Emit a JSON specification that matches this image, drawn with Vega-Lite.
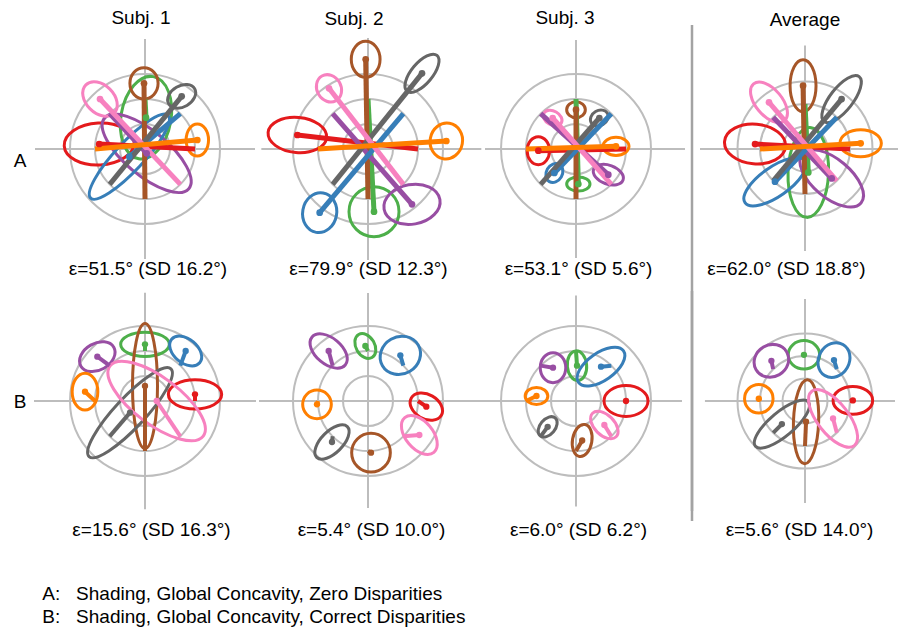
{
"$schema": "https://vega.github.io/schema/vega-lite/v6.json",
"padding": {"left": 13, "top": 8, "right": 0, "bottom": 0},
"title": {"text": ["A:\u00a0\u00a0\u00a0Shading, Global Concavity, Zero Disparities", "B:\u00a0\u00a0\u00a0Shading, Global Concavity, Correct Disparities"], "orient": "bottom", "anchor": "start", "offset": 45, "dx": 29, "lineHeight": 23, "baseline": "top"},
"config": {
  "view": {"stroke": null},
  "font": "Liberation Sans",
  "axis": {"labels": false, "ticks": false, "domain": false, "grid": false, "titleFont": "Liberation Sans", "titleFontSize": 19, "titleFontWeight": "normal", "titleColor": "#000"},
  "title": {"font": "Liberation Sans", "fontSize": 19, "fontWeight": "normal", "color": "#000"}
},
"datasets": {
  "rings": [{"rad": 15}, {"rad": 30}, {"rad": 45}],
  "targets": [
    {"c": "red", "tx": 30, "ty": 0}, {"c": "blue", "tx": 21.21, "ty": 21.21}, {"c": "green", "tx": 0, "ty": 30}, {"c": "purple", "tx": -21.21, "ty": 21.21},
    {"c": "orange", "tx": -30, "ty": 0}, {"c": "gray", "tx": -21.21, "ty": -21.21}, {"c": "brown", "tx": 0, "ty": -30}, {"c": "pink", "tx": 21.21, "ty": -21.21}
  ],
  "cross": [
    {"p": "S1A", "x1": -66, "y1": 0, "x2": 66, "y2": 0}, {"p": "S1A", "x1": 0, "y1": -66, "x2": 0, "y2": 66},
    {"p": "S2A", "x1": -64, "y1": 0, "x2": 68, "y2": 0}, {"p": "S2A", "x1": 0, "y1": -66.6, "x2": 0, "y2": 66.6},
    {"p": "S3A", "x1": -54.6, "y1": 0, "x2": 65.4, "y2": 0}, {"p": "S3A", "x1": 0, "y1": -65.4, "x2": 0, "y2": 65.4},
    {"p": "AvA", "x1": -70, "y1": 0, "x2": 62, "y2": 0}, {"p": "AvA", "x1": 0, "y1": -68, "x2": 0, "y2": 69},
    {"p": "S1B", "x1": -66.6, "y1": 0, "x2": 66.6, "y2": 0}, {"p": "S1B", "x1": 0, "y1": -65, "x2": 0, "y2": 65},
    {"p": "S2B", "x1": -65.4, "y1": 0, "x2": 66.6, "y2": 0}, {"p": "S2B", "x1": 0, "y1": -64.2, "x2": 0, "y2": 64.8},
    {"p": "S3B", "x1": -63, "y1": 0, "x2": 63.6, "y2": 0}, {"p": "S3B", "x1": 0, "y1": -63.3, "x2": 0, "y2": 63.3},
    {"p": "AvB", "x1": -66.7, "y1": 0, "x2": 60, "y2": 0}, {"p": "AvB", "x1": 0, "y1": -68, "x2": 0, "y2": 68}
  ],
  "items": [
    {"p": "S1A", "c": "red", "x": -27.5, "y": 3, "a": 21, "k": 0.6, "t": 3},
    {"p": "S1A", "c": "green", "x": 0.6, "y": 18.8, "a": 25, "k": 0.6, "t": 80},
    {"p": "S1A", "c": "brown", "x": -0.6, "y": 39.4, "a": 9.4, "k": 0.9, "t": 90},
    {"p": "S1A", "c": "purple", "x": 1, "y": -2.6, "a": 33, "k": 0.4, "t": 140},
    {"p": "S1A", "c": "blue", "x": -9.4, "y": -4.6, "a": 34, "k": 0.25, "t": 47},
    {"p": "S1A", "c": "gray", "x": 22, "y": 31.6, "a": 9, "k": 0.7, "t": 30},
    {"p": "S1A", "c": "pink", "x": -27, "y": 30, "a": 12, "k": 0.7, "t": 135},
    {"p": "S1A", "c": "orange", "x": 31.4, "y": 5.4, "a": 9.6, "k": 0.7, "t": 90},

    {"p": "S2A", "c": "red", "x": -42.4, "y": 8.4, "a": 17.6, "k": 0.6, "t": 175},
    {"p": "S2A", "c": "green", "x": 3.6, "y": -37.6, "a": 15, "k": 1, "t": 0},
    {"p": "S2A", "c": "brown", "x": -1.4, "y": 53.8, "a": 10.8, "k": 0.8, "t": 90},
    {"p": "S2A", "c": "purple", "x": 26.4, "y": -33.2, "a": 17, "k": 0.7, "t": 10},
    {"p": "S2A", "c": "blue", "x": -29, "y": -38.2, "a": 12, "k": 0.85, "t": 80},
    {"p": "S2A", "c": "gray", "x": 32.4, "y": 45.4, "a": 14, "k": 0.45, "t": 50},
    {"p": "S2A", "c": "pink", "x": -23.4, "y": 36.4, "a": 8.5, "k": 0.85, "t": 120},
    {"p": "S2A", "c": "orange", "x": 47, "y": 4.8, "a": 10.8, "k": 0.9, "t": 80},

    {"p": "S3A", "c": "red", "x": -22.6, "y": -1, "a": 8.4, "k": 0.8, "t": 90},
    {"p": "S3A", "c": "green", "x": 1.4, "y": -21, "a": 7, "k": 0.6, "t": 0},
    {"p": "S3A", "c": "brown", "x": 0, "y": 23.6, "a": 5.6, "k": 0.85, "t": 0},
    {"p": "S3A", "c": "purple", "x": 19.4, "y": -15.4, "a": 9.4, "k": 0.6, "t": 160},
    {"p": "S3A", "c": "blue", "x": -13, "y": -14.4, "a": 6, "k": 0.8, "t": 60},
    {"p": "S3A", "c": "gray", "x": 14, "y": 18.6, "a": 5.6, "k": 0.8, "t": 30},
    {"p": "S3A", "c": "pink", "x": -14, "y": 18.6, "a": 6, "k": 0.7, "t": 150},
    {"p": "S3A", "c": "orange", "x": 24, "y": 1.6, "a": 7.8, "k": 0.7, "t": 0},

    {"p": "AvA", "c": "red", "x": -33.3, "y": 3.3, "a": 20.4, "k": 0.65, "t": 175},
    {"p": "AvA", "c": "green", "x": 2.2, "y": -15.6, "a": 30, "k": 0.45, "t": 88},
    {"p": "AvA", "c": "brown", "x": -1.3, "y": 42.2, "a": 17.3, "k": 0.5, "t": 90},
    {"p": "AvA", "c": "purple", "x": 17.8, "y": -19.6, "a": 25.5, "k": 0.5, "t": 140},
    {"p": "AvA", "c": "blue", "x": -20, "y": -21.8, "a": 24.4, "k": 0.4, "t": 35},
    {"p": "AvA", "c": "gray", "x": 24.4, "y": 33.3, "a": 19, "k": 0.4, "t": 52},
    {"p": "AvA", "c": "pink", "x": -24, "y": 31.1, "a": 16, "k": 0.55, "t": 130},
    {"p": "AvA", "c": "orange", "x": 37.1, "y": 3.8, "a": 13.8, "k": 0.65, "t": 0},

    {"p": "S1B", "c": "red", "x": 30, "y": 4, "a": 16, "k": 0.55, "t": 0},
    {"p": "S1B", "c": "green", "x": 0, "y": 34, "a": 14.6, "k": 0.5, "t": 0},
    {"p": "S1B", "c": "brown", "x": 0, "y": 9, "a": 37.5, "k": 0.2, "t": 90},
    {"p": "S1B", "c": "purple", "x": -28.6, "y": 26.6, "a": 11.4, "k": 0.7, "t": 30},
    {"p": "S1B", "c": "blue", "x": 24.4, "y": 30, "a": 11, "k": 0.65, "t": 140},
    {"p": "S1B", "c": "gray", "x": -9, "y": -7, "a": 36, "k": 0.25, "t": 47},
    {"p": "S1B", "c": "pink", "x": 7, "y": 0, "a": 35, "k": 0.4, "t": 143},
    {"p": "S1B", "c": "orange", "x": -36, "y": 5.6, "a": 11, "k": 0.7, "t": 90},

    {"p": "S2B", "c": "red", "x": 35, "y": -3.4, "a": 10.4, "k": 0.7, "t": 150},
    {"p": "S2B", "c": "green", "x": -1.6, "y": 33, "a": 8, "k": 0.7, "t": 120},
    {"p": "S2B", "c": "brown", "x": 1.8, "y": -31, "a": 11.6, "k": 1, "t": 0},
    {"p": "S2B", "c": "purple", "x": -23.6, "y": 30, "a": 13, "k": 0.6, "t": 140},
    {"p": "S2B", "c": "blue", "x": 19.4, "y": 27.4, "a": 12.4, "k": 0.9, "t": 30},
    {"p": "S2B", "c": "gray", "x": -21.6, "y": -24.6, "a": 13, "k": 0.5, "t": 45},
    {"p": "S2B", "c": "pink", "x": 30.8, "y": -20.4, "a": 13.6, "k": 0.6, "t": 130},
    {"p": "S2B", "c": "orange", "x": -30.6, "y": -2, "a": 8.6, "k": 1, "t": 0},

    {"p": "S3B", "c": "red", "x": 30, "y": 0, "a": 13.2, "k": 0.7, "t": 0},
    {"p": "S3B", "c": "green", "x": 0.6, "y": 21.2, "a": 8.9, "k": 0.65, "t": 95},
    {"p": "S3B", "c": "brown", "x": 3.7, "y": -23.7, "a": 9.7, "k": 0.6, "t": 80},
    {"p": "S3B", "c": "purple", "x": -13.8, "y": 20, "a": 9, "k": 0.85, "t": 90},
    {"p": "S3B", "c": "blue", "x": 15, "y": 20.6, "a": 16.5, "k": 0.5, "t": 35},
    {"p": "S3B", "c": "gray", "x": -17, "y": -15.5, "a": 7, "k": 0.65, "t": 50},
    {"p": "S3B", "c": "pink", "x": 17, "y": -14.4, "a": 10, "k": 0.6, "t": 135},
    {"p": "S3B", "c": "orange", "x": -23.7, "y": 3, "a": 6.8, "k": 0.75, "t": 0},

    {"p": "AvB", "c": "red", "x": 31.9, "y": 0.4, "a": 13.2, "k": 0.7, "t": 0},
    {"p": "AvB", "c": "green", "x": -0.7, "y": 30.8, "a": 10.5, "k": 0.9, "t": 0},
    {"p": "AvB", "c": "brown", "x": 0.7, "y": -13.8, "a": 28, "k": 0.3, "t": 88},
    {"p": "AvB", "c": "purple", "x": -22.4, "y": 26.8, "a": 11.8, "k": 0.9, "t": 30},
    {"p": "AvB", "c": "blue", "x": 19.3, "y": 27.3, "a": 12, "k": 0.85, "t": 60},
    {"p": "AvB", "c": "gray", "x": -15.4, "y": -15.4, "a": 23, "k": 0.35, "t": 40},
    {"p": "AvB", "c": "pink", "x": 18.7, "y": -11.6, "a": 23, "k": 0.45, "t": 128},
    {"p": "AvB", "c": "orange", "x": -30.8, "y": 1.5, "a": 9.5, "k": 1, "t": 0}
  ]
},
"columns": 5,
"spacing": {"row": 32, "column": 0},
"bounds": "flush",
"resolve": {"scale": {"size": "independent", "x": "independent", "y": "independent"}},
"concat": [
{"width": 220, "height": 220,
 "title": {"text": "Subj. 1", "anchor": "middle", "frame": "group", "dx": -4, "offset": -4.5, "baseline": "alphabetic"},
 "layer": [
  {"data": {"name": "cross"}, "transform": [{"filter": "datum.p == 'S1A'"}], "mark": {"type": "rule", "color": "#bdbdbd", "strokeWidth": 2},
   "encoding": {"x": {"field": "x1", "type": "quantitative", "scale": {"domain": [-66, 66]}, "axis": {"title": "ε=51.5° (SD 16.2°)", "titleX": 112.5, "titleY": 15.5, "titleBaseline": "alphabetic", "titleAlign": "center"}},
    "y": {"field": "y1", "type": "quantitative", "scale": {"domain": [-66, 66]}, "axis": {"title": "A", "titleAngle": 0, "titleAlign": "right", "titleBaseline": "alphabetic", "titleX": -9, "titleY": 127.7}},
    "x2": {"field": "x2"}, "y2": {"field": "y2"}}},
  {"data": {"name": "rings"}, "mark": {"type": "point", "shape": "circle", "filled": false, "color": "#bdbdbd", "strokeWidth": 2, "opacity": 1},
   "encoding": {"x": {"datum": 0, "type": "quantitative", "scale": {"domain": [-66, 66]}, "axis": {"title": "ε=51.5° (SD 16.2°)", "titleX": 112.5, "titleY": 15.5, "titleBaseline": "alphabetic", "titleAlign": "center"}}, "y": {"datum": 0, "type": "quantitative", "scale": {"domain": [-66, 66]}, "axis": {"title": "A", "titleAngle": 0, "titleAlign": "right", "titleBaseline": "alphabetic", "titleX": -9, "titleY": 127.7}},
    "size": {"field": "rad", "type": "quantitative", "scale": {"type": "pow", "exponent": 2, "domain": [0, 45], "range": [0, 22500]}, "legend": null}}},
  {"data": {"name": "items"}, "transform": [{"filter": "datum.p == 'S1A'"}], "mark": {"type": "point", "filled": false, "strokeWidth": 3, "opacity": 1},
   "encoding": {"x": {"field": "x", "type": "quantitative", "scale": {"domain": [-66, 66]}, "axis": {"title": "ε=51.5° (SD 16.2°)", "titleX": 112.5, "titleY": 15.5, "titleBaseline": "alphabetic", "titleAlign": "center"}}, "y": {"field": "y", "type": "quantitative", "scale": {"domain": [-66, 66]}, "axis": {"title": "A", "titleAngle": 0, "titleAlign": "right", "titleBaseline": "alphabetic", "titleX": -9, "titleY": 127.7}},
    "size": {"field": "a", "type": "quantitative", "scale": {"type": "pow", "exponent": 2, "domain": [0, 45], "range": [0, 22500]}, "legend": null},
    "shape": {"field": "k", "type": "ordinal", "legend": null, "scale": {"domain": [0.2,0.25,0.3,0.35,0.4,0.45,0.5,0.55,0.6,0.65,0.7,0.75,0.8,0.85,0.9,1], "range": ["M1,0C1,0.1105,0.5523,0.2,0,0.2C-0.5523,0.2,-1,0.1105,-1,0C-1,-0.1105,-0.5523,-0.2,0,-0.2C0.5523,-0.2,1,-0.1105,1,0Z","M1,0C1,0.1381,0.5523,0.25,0,0.25C-0.5523,0.25,-1,0.1381,-1,0C-1,-0.1381,-0.5523,-0.25,0,-0.25C0.5523,-0.25,1,-0.1381,1,0Z","M1,0C1,0.1657,0.5523,0.3,0,0.3C-0.5523,0.3,-1,0.1657,-1,0C-1,-0.1657,-0.5523,-0.3,0,-0.3C0.5523,-0.3,1,-0.1657,1,0Z","M1,0C1,0.1933,0.5523,0.35,0,0.35C-0.5523,0.35,-1,0.1933,-1,0C-1,-0.1933,-0.5523,-0.35,0,-0.35C0.5523,-0.35,1,-0.1933,1,0Z","M1,0C1,0.2209,0.5523,0.4,0,0.4C-0.5523,0.4,-1,0.2209,-1,0C-1,-0.2209,-0.5523,-0.4,0,-0.4C0.5523,-0.4,1,-0.2209,1,0Z","M1,0C1,0.2485,0.5523,0.45,0,0.45C-0.5523,0.45,-1,0.2485,-1,0C-1,-0.2485,-0.5523,-0.45,0,-0.45C0.5523,-0.45,1,-0.2485,1,0Z","M1,0C1,0.2762,0.5523,0.5,0,0.5C-0.5523,0.5,-1,0.2762,-1,0C-1,-0.2762,-0.5523,-0.5,0,-0.5C0.5523,-0.5,1,-0.2762,1,0Z","M1,0C1,0.3038,0.5523,0.55,0,0.55C-0.5523,0.55,-1,0.3038,-1,0C-1,-0.3038,-0.5523,-0.55,0,-0.55C0.5523,-0.55,1,-0.3038,1,0Z","M1,0C1,0.3314,0.5523,0.6,0,0.6C-0.5523,0.6,-1,0.3314,-1,0C-1,-0.3314,-0.5523,-0.6,0,-0.6C0.5523,-0.6,1,-0.3314,1,0Z","M1,0C1,0.359,0.5523,0.65,0,0.65C-0.5523,0.65,-1,0.359,-1,0C-1,-0.359,-0.5523,-0.65,0,-0.65C0.5523,-0.65,1,-0.359,1,0Z","M1,0C1,0.3866,0.5523,0.7,0,0.7C-0.5523,0.7,-1,0.3866,-1,0C-1,-0.3866,-0.5523,-0.7,0,-0.7C0.5523,-0.7,1,-0.3866,1,0Z","M1,0C1,0.4142,0.5523,0.75,0,0.75C-0.5523,0.75,-1,0.4142,-1,0C-1,-0.4142,-0.5523,-0.75,0,-0.75C0.5523,-0.75,1,-0.4142,1,0Z","M1,0C1,0.4418,0.5523,0.8,0,0.8C-0.5523,0.8,-1,0.4418,-1,0C-1,-0.4418,-0.5523,-0.8,0,-0.8C0.5523,-0.8,1,-0.4418,1,0Z","M1,0C1,0.4695,0.5523,0.85,0,0.85C-0.5523,0.85,-1,0.4695,-1,0C-1,-0.4695,-0.5523,-0.85,0,-0.85C0.5523,-0.85,1,-0.4695,1,0Z","M1,0C1,0.4971,0.5523,0.9,0,0.9C-0.5523,0.9,-1,0.4971,-1,0C-1,-0.4971,-0.5523,-0.9,0,-0.9C0.5523,-0.9,1,-0.4971,1,0Z","M1,0C1,0.5523,0.5523,1,0,1C-0.5523,1,-1,0.5523,-1,0C-1,-0.5523,-0.5523,-1,0,-1C0.5523,-1,1,-0.5523,1,0Z"]}},
    "angle": {"field": "t", "type": "quantitative", "scale": {"domain": [0, 180], "range": [180, 0]}},
    "color": {"field": "c", "type": "nominal", "legend": null, "scale": {"domain": ["red","blue","green","purple","orange","gray","brown","pink"], "range": ["#e41a1c","#377eb8","#4daf4a","#984ea3","#ff7f00","#666666","#a65628","#f781bf"]}}}},
  {"data": {"name": "items"}, "transform": [{"filter": "datum.p == 'S1A'"}, {"lookup": "c", "from": {"data": {"name": "targets"}, "key": "c", "fields": ["tx", "ty"]}}], "mark": {"type": "rule", "strokeWidth": 5},
   "encoding": {"x": {"field": "x", "type": "quantitative", "scale": {"domain": [-66, 66]}, "axis": {"title": "ε=51.5° (SD 16.2°)", "titleX": 112.5, "titleY": 15.5, "titleBaseline": "alphabetic", "titleAlign": "center"}}, "y": {"field": "y", "type": "quantitative", "scale": {"domain": [-66, 66]}, "axis": {"title": "A", "titleAngle": 0, "titleAlign": "right", "titleBaseline": "alphabetic", "titleX": -9, "titleY": 127.7}}, "x2": {"field": "tx"}, "y2": {"field": "ty"},
    "color": {"field": "c", "type": "nominal", "legend": null}}},
  {"data": {"name": "items"}, "transform": [{"filter": "datum.p == 'S1A'"}], "mark": {"type": "point", "shape": "circle", "filled": true, "size": 45, "opacity": 1},
   "encoding": {"x": {"field": "x", "type": "quantitative", "scale": {"domain": [-66, 66]}, "axis": {"title": "ε=51.5° (SD 16.2°)", "titleX": 112.5, "titleY": 15.5, "titleBaseline": "alphabetic", "titleAlign": "center"}}, "y": {"field": "y", "type": "quantitative", "scale": {"domain": [-66, 66]}, "axis": {"title": "A", "titleAngle": 0, "titleAlign": "right", "titleBaseline": "alphabetic", "titleX": -9, "titleY": 127.7}},
    "color": {"field": "c", "type": "nominal", "legend": null}}}
 ]},
{"width": 226, "height": 220,
 "title": {"text": "Subj. 2", "anchor": "middle", "frame": "group", "dx": -14, "offset": -8.5, "baseline": "alphabetic"},
 "layer": [
  {"data": {"name": "cross"}, "transform": [{"filter": "datum.p == 'S2A'"}], "mark": {"type": "rule", "color": "#bdbdbd", "strokeWidth": 2},
   "encoding": {"x": {"field": "x1", "type": "quantitative", "scale": {"domain": [-67.8, 67.8]}, "axis": {"title": "ε=79.9° (SD 12.3°)", "titleX": 113, "titleY": 15.5, "titleBaseline": "alphabetic", "titleAlign": "center"}},
    "y": {"field": "y1", "type": "quantitative", "scale": {"domain": [-66, 66]}, "axis": null},
    "x2": {"field": "x2"}, "y2": {"field": "y2"}}},
  {"data": {"name": "rings"}, "mark": {"type": "point", "shape": "circle", "filled": false, "color": "#bdbdbd", "strokeWidth": 2, "opacity": 1},
   "encoding": {"x": {"datum": 0, "type": "quantitative", "scale": {"domain": [-67.8, 67.8]}, "axis": {"title": "ε=79.9° (SD 12.3°)", "titleX": 113, "titleY": 15.5, "titleBaseline": "alphabetic", "titleAlign": "center"}}, "y": {"datum": 0, "type": "quantitative", "scale": {"domain": [-66, 66]}, "axis": null},
    "size": {"field": "rad", "type": "quantitative", "scale": {"type": "pow", "exponent": 2, "domain": [0, 45], "range": [0, 22500]}, "legend": null}}},
  {"data": {"name": "items"}, "transform": [{"filter": "datum.p == 'S2A'"}], "mark": {"type": "point", "filled": false, "strokeWidth": 3, "opacity": 1},
   "encoding": {"x": {"field": "x", "type": "quantitative", "scale": {"domain": [-67.8, 67.8]}, "axis": {"title": "ε=79.9° (SD 12.3°)", "titleX": 113, "titleY": 15.5, "titleBaseline": "alphabetic", "titleAlign": "center"}}, "y": {"field": "y", "type": "quantitative", "scale": {"domain": [-66, 66]}, "axis": null},
    "size": {"field": "a", "type": "quantitative", "scale": {"type": "pow", "exponent": 2, "domain": [0, 45], "range": [0, 22500]}, "legend": null},
    "shape": {"field": "k", "type": "ordinal", "legend": null},
    "angle": {"field": "t", "type": "quantitative", "scale": {"domain": [0, 180], "range": [180, 0]}},
    "color": {"field": "c", "type": "nominal", "legend": null}}},
  {"data": {"name": "items"}, "transform": [{"filter": "datum.p == 'S2A'"}, {"lookup": "c", "from": {"data": {"name": "targets"}, "key": "c", "fields": ["tx", "ty"]}}], "mark": {"type": "rule", "strokeWidth": 5},
   "encoding": {"x": {"field": "x", "type": "quantitative", "scale": {"domain": [-67.8, 67.8]}, "axis": {"title": "ε=79.9° (SD 12.3°)", "titleX": 113, "titleY": 15.5, "titleBaseline": "alphabetic", "titleAlign": "center"}}, "y": {"field": "y", "type": "quantitative", "scale": {"domain": [-66, 66]}, "axis": null}, "x2": {"field": "tx"}, "y2": {"field": "ty"},
    "color": {"field": "c", "type": "nominal", "legend": null}}},
  {"data": {"name": "items"}, "transform": [{"filter": "datum.p == 'S2A'"}], "mark": {"type": "point", "shape": "circle", "filled": true, "size": 45, "opacity": 1},
   "encoding": {"x": {"field": "x", "type": "quantitative", "scale": {"domain": [-67.8, 67.8]}, "axis": {"title": "ε=79.9° (SD 12.3°)", "titleX": 113, "titleY": 15.5, "titleBaseline": "alphabetic", "titleAlign": "center"}}, "y": {"field": "y", "type": "quantitative", "scale": {"domain": [-66, 66]}, "axis": null},
    "color": {"field": "c", "type": "nominal", "legend": null}}}
 ]},
{"width": 190, "height": 220,
 "title": {"text": "Subj. 3", "anchor": "middle", "frame": "group", "dx": -11, "offset": -4, "baseline": "alphabetic"},
 "layer": [
  {"data": {"name": "cross"}, "transform": [{"filter": "datum.p == 'S3A'"}], "mark": {"type": "rule", "color": "#bdbdbd", "strokeWidth": 2},
   "encoding": {"x": {"field": "x1", "type": "quantitative", "scale": {"domain": [-57, 57]}, "axis": {"title": "ε=53.1° (SD 5.6°)", "titleX": 97, "titleY": 15.5, "titleBaseline": "alphabetic", "titleAlign": "center"}},
    "y": {"field": "y1", "type": "quantitative", "scale": {"domain": [-66, 66]}, "axis": null},
    "x2": {"field": "x2"}, "y2": {"field": "y2"}}},
  {"data": {"name": "rings"}, "mark": {"type": "point", "shape": "circle", "filled": false, "color": "#bdbdbd", "strokeWidth": 2, "opacity": 1},
   "encoding": {"x": {"datum": 0, "type": "quantitative", "scale": {"domain": [-57, 57]}, "axis": {"title": "ε=53.1° (SD 5.6°)", "titleX": 97, "titleY": 15.5, "titleBaseline": "alphabetic", "titleAlign": "center"}}, "y": {"datum": 0, "type": "quantitative", "scale": {"domain": [-66, 66]}, "axis": null},
    "size": {"field": "rad", "type": "quantitative", "scale": {"type": "pow", "exponent": 2, "domain": [0, 45], "range": [0, 22500]}, "legend": null}}},
  {"data": {"name": "items"}, "transform": [{"filter": "datum.p == 'S3A'"}], "mark": {"type": "point", "filled": false, "strokeWidth": 3, "opacity": 1},
   "encoding": {"x": {"field": "x", "type": "quantitative", "scale": {"domain": [-57, 57]}, "axis": {"title": "ε=53.1° (SD 5.6°)", "titleX": 97, "titleY": 15.5, "titleBaseline": "alphabetic", "titleAlign": "center"}}, "y": {"field": "y", "type": "quantitative", "scale": {"domain": [-66, 66]}, "axis": null},
    "size": {"field": "a", "type": "quantitative", "scale": {"type": "pow", "exponent": 2, "domain": [0, 45], "range": [0, 22500]}, "legend": null},
    "shape": {"field": "k", "type": "ordinal", "legend": null},
    "angle": {"field": "t", "type": "quantitative", "scale": {"domain": [0, 180], "range": [180, 0]}},
    "color": {"field": "c", "type": "nominal", "legend": null}}},
  {"data": {"name": "items"}, "transform": [{"filter": "datum.p == 'S3A'"}, {"lookup": "c", "from": {"data": {"name": "targets"}, "key": "c", "fields": ["tx", "ty"]}}], "mark": {"type": "rule", "strokeWidth": 5},
   "encoding": {"x": {"field": "x", "type": "quantitative", "scale": {"domain": [-57, 57]}, "axis": {"title": "ε=53.1° (SD 5.6°)", "titleX": 97, "titleY": 15.5, "titleBaseline": "alphabetic", "titleAlign": "center"}}, "y": {"field": "y", "type": "quantitative", "scale": {"domain": [-66, 66]}, "axis": null}, "x2": {"field": "tx"}, "y2": {"field": "ty"},
    "color": {"field": "c", "type": "nominal", "legend": null}}},
  {"data": {"name": "items"}, "transform": [{"filter": "datum.p == 'S3A'"}], "mark": {"type": "point", "shape": "circle", "filled": true, "size": 45, "opacity": 1},
   "encoding": {"x": {"field": "x", "type": "quantitative", "scale": {"domain": [-57, 57]}, "axis": {"title": "ε=53.1° (SD 5.6°)", "titleX": 97, "titleY": 15.5, "titleBaseline": "alphabetic", "titleAlign": "center"}}, "y": {"field": "y", "type": "quantitative", "scale": {"domain": [-66, 66]}, "axis": null},
    "color": {"field": "c", "type": "nominal", "legend": null}}}
 ]},
{"width": 42, "height": 220, "data": {"values": [{"t0": 0, "t1": 1}]},
 "mark": {"type": "rule", "color": "#a3a3a3", "strokeWidth": 2.5},
 "encoding": {"x": {"datum": 0.5, "type": "quantitative", "scale": {"domain": [0, 1]}, "axis": null},
  "y": {"field": "t0", "type": "quantitative", "scale": {"domain": [0, 1], "range": [482, -14]}, "axis": null}, "y2": {"field": "t1"}}},
{"width": 184, "height": 220,
 "title": {"text": "Average", "anchor": "middle", "frame": "group", "dx": 0, "offset": -5.5, "baseline": "alphabetic"},
 "layer": [
  {"data": {"name": "cross"}, "transform": [{"filter": "datum.p == 'AvA'"}], "mark": {"type": "rule", "color": "#bdbdbd", "strokeWidth": 2},
   "encoding": {"x": {"field": "x1", "type": "quantitative", "scale": {"domain": [-61.33, 61.33]}, "axis": {"title": "ε=62.0° (SD 18.8°)", "titleX": 73, "titleY": 15.5, "titleBaseline": "alphabetic", "titleAlign": "center"}},
    "y": {"field": "y1", "type": "quantitative", "scale": {"domain": [-73.33, 73.33]}, "axis": null},
    "x2": {"field": "x2"}, "y2": {"field": "y2"}}},
  {"data": {"name": "rings"}, "mark": {"type": "point", "shape": "circle", "filled": false, "color": "#bdbdbd", "strokeWidth": 2, "opacity": 1},
   "encoding": {"x": {"datum": 0, "type": "quantitative", "scale": {"domain": [-61.33, 61.33]}, "axis": {"title": "ε=62.0° (SD 18.8°)", "titleX": 73, "titleY": 15.5, "titleBaseline": "alphabetic", "titleAlign": "center"}}, "y": {"datum": 0, "type": "quantitative", "scale": {"domain": [-73.33, 73.33]}, "axis": null},
    "size": {"field": "rad", "type": "quantitative", "scale": {"type": "pow", "exponent": 2, "domain": [0, 45], "range": [0, 18225]}, "legend": null}}},
  {"data": {"name": "items"}, "transform": [{"filter": "datum.p == 'AvA'"}], "mark": {"type": "point", "filled": false, "strokeWidth": 3, "opacity": 1},
   "encoding": {"x": {"field": "x", "type": "quantitative", "scale": {"domain": [-61.33, 61.33]}, "axis": {"title": "ε=62.0° (SD 18.8°)", "titleX": 73, "titleY": 15.5, "titleBaseline": "alphabetic", "titleAlign": "center"}}, "y": {"field": "y", "type": "quantitative", "scale": {"domain": [-73.33, 73.33]}, "axis": null},
    "size": {"field": "a", "type": "quantitative", "scale": {"type": "pow", "exponent": 2, "domain": [0, 45], "range": [0, 18225]}, "legend": null},
    "shape": {"field": "k", "type": "ordinal", "legend": null},
    "angle": {"field": "t", "type": "quantitative", "scale": {"domain": [0, 180], "range": [180, 0]}},
    "color": {"field": "c", "type": "nominal", "legend": null}}},
  {"data": {"name": "items"}, "transform": [{"filter": "datum.p == 'AvA'"}, {"lookup": "c", "from": {"data": {"name": "targets"}, "key": "c", "fields": ["tx", "ty"]}}], "mark": {"type": "rule", "strokeWidth": 5},
   "encoding": {"x": {"field": "x", "type": "quantitative", "scale": {"domain": [-61.33, 61.33]}, "axis": {"title": "ε=62.0° (SD 18.8°)", "titleX": 73, "titleY": 15.5, "titleBaseline": "alphabetic", "titleAlign": "center"}}, "y": {"field": "y", "type": "quantitative", "scale": {"domain": [-73.33, 73.33]}, "axis": null}, "x2": {"field": "tx"}, "y2": {"field": "ty"},
    "color": {"field": "c", "type": "nominal", "legend": null}}},
  {"data": {"name": "items"}, "transform": [{"filter": "datum.p == 'AvA'"}], "mark": {"type": "point", "shape": "circle", "filled": true, "size": 45, "opacity": 1},
   "encoding": {"x": {"field": "x", "type": "quantitative", "scale": {"domain": [-61.33, 61.33]}, "axis": {"title": "ε=62.0° (SD 18.8°)", "titleX": 73, "titleY": 15.5, "titleBaseline": "alphabetic", "titleAlign": "center"}}, "y": {"field": "y", "type": "quantitative", "scale": {"domain": [-73.33, 73.33]}, "axis": null},
    "color": {"field": "c", "type": "nominal", "legend": null}}}
 ]},
{"width": 220, "height": 220,
 "layer": [
  {"data": {"name": "cross"}, "transform": [{"filter": "datum.p == 'S1B'"}], "mark": {"type": "rule", "color": "#bdbdbd", "strokeWidth": 2},
   "encoding": {"x": {"field": "x1", "type": "quantitative", "scale": {"domain": [-66, 66]}, "axis": {"title": "ε=15.6° (SD 16.3°)", "titleX": 116, "titleY": 24.7, "titleBaseline": "alphabetic", "titleAlign": "center"}},
    "y": {"field": "y1", "type": "quantitative", "scale": {"domain": [-66, 66]}, "axis": {"title": "B", "titleAngle": 0, "titleAlign": "right", "titleBaseline": "alphabetic", "titleX": -9, "titleY": 116.3}},
    "x2": {"field": "x2"}, "y2": {"field": "y2"}}},
  {"data": {"name": "rings"}, "mark": {"type": "point", "shape": "circle", "filled": false, "color": "#bdbdbd", "strokeWidth": 2, "opacity": 1},
   "encoding": {"x": {"datum": 0, "type": "quantitative", "scale": {"domain": [-66, 66]}, "axis": {"title": "ε=15.6° (SD 16.3°)", "titleX": 116, "titleY": 24.7, "titleBaseline": "alphabetic", "titleAlign": "center"}}, "y": {"datum": 0, "type": "quantitative", "scale": {"domain": [-66, 66]}, "axis": {"title": "B", "titleAngle": 0, "titleAlign": "right", "titleBaseline": "alphabetic", "titleX": -9, "titleY": 116.3}},
    "size": {"field": "rad", "type": "quantitative", "scale": {"type": "pow", "exponent": 2, "domain": [0, 45], "range": [0, 22500]}, "legend": null}}},
  {"data": {"name": "items"}, "transform": [{"filter": "datum.p == 'S1B'"}], "mark": {"type": "point", "filled": false, "strokeWidth": 3, "opacity": 1},
   "encoding": {"x": {"field": "x", "type": "quantitative", "scale": {"domain": [-66, 66]}, "axis": {"title": "ε=15.6° (SD 16.3°)", "titleX": 116, "titleY": 24.7, "titleBaseline": "alphabetic", "titleAlign": "center"}}, "y": {"field": "y", "type": "quantitative", "scale": {"domain": [-66, 66]}, "axis": {"title": "B", "titleAngle": 0, "titleAlign": "right", "titleBaseline": "alphabetic", "titleX": -9, "titleY": 116.3}},
    "size": {"field": "a", "type": "quantitative", "scale": {"type": "pow", "exponent": 2, "domain": [0, 45], "range": [0, 22500]}, "legend": null},
    "shape": {"field": "k", "type": "ordinal", "legend": null},
    "angle": {"field": "t", "type": "quantitative", "scale": {"domain": [0, 180], "range": [180, 0]}},
    "color": {"field": "c", "type": "nominal", "legend": null}}},
  {"data": {"name": "items"}, "transform": [{"filter": "datum.p == 'S1B'"}, {"lookup": "c", "from": {"data": {"name": "targets"}, "key": "c", "fields": ["tx", "ty"]}}], "mark": {"type": "rule", "strokeWidth": 4},
   "encoding": {"x": {"field": "x", "type": "quantitative", "scale": {"domain": [-66, 66]}, "axis": {"title": "ε=15.6° (SD 16.3°)", "titleX": 116, "titleY": 24.7, "titleBaseline": "alphabetic", "titleAlign": "center"}}, "y": {"field": "y", "type": "quantitative", "scale": {"domain": [-66, 66]}, "axis": {"title": "B", "titleAngle": 0, "titleAlign": "right", "titleBaseline": "alphabetic", "titleX": -9, "titleY": 116.3}}, "x2": {"field": "tx"}, "y2": {"field": "ty"},
    "color": {"field": "c", "type": "nominal", "legend": null}}},
  {"data": {"name": "items"}, "transform": [{"filter": "datum.p == 'S1B'"}], "mark": {"type": "point", "shape": "circle", "filled": true, "size": 40, "opacity": 1},
   "encoding": {"x": {"field": "x", "type": "quantitative", "scale": {"domain": [-66, 66]}, "axis": {"title": "ε=15.6° (SD 16.3°)", "titleX": 116, "titleY": 24.7, "titleBaseline": "alphabetic", "titleAlign": "center"}}, "y": {"field": "y", "type": "quantitative", "scale": {"domain": [-66, 66]}, "axis": {"title": "B", "titleAngle": 0, "titleAlign": "right", "titleBaseline": "alphabetic", "titleX": -9, "titleY": 116.3}},
    "color": {"field": "c", "type": "nominal", "legend": null}}}
 ]},
{"width": 226, "height": 220,
 "layer": [
  {"data": {"name": "cross"}, "transform": [{"filter": "datum.p == 'S2B'"}], "mark": {"type": "rule", "color": "#bdbdbd", "strokeWidth": 2},
   "encoding": {"x": {"field": "x1", "type": "quantitative", "scale": {"domain": [-67.8, 67.8]}, "axis": {"title": "ε=5.4° (SD 10.0°)", "titleX": 116, "titleY": 24.7, "titleBaseline": "alphabetic", "titleAlign": "center"}},
    "y": {"field": "y1", "type": "quantitative", "scale": {"domain": [-66, 66]}, "axis": null},
    "x2": {"field": "x2"}, "y2": {"field": "y2"}}},
  {"data": {"name": "rings"}, "mark": {"type": "point", "shape": "circle", "filled": false, "color": "#bdbdbd", "strokeWidth": 2, "opacity": 1},
   "encoding": {"x": {"datum": 0, "type": "quantitative", "scale": {"domain": [-67.8, 67.8]}, "axis": {"title": "ε=5.4° (SD 10.0°)", "titleX": 116, "titleY": 24.7, "titleBaseline": "alphabetic", "titleAlign": "center"}}, "y": {"datum": 0, "type": "quantitative", "scale": {"domain": [-66, 66]}, "axis": null},
    "size": {"field": "rad", "type": "quantitative", "scale": {"type": "pow", "exponent": 2, "domain": [0, 45], "range": [0, 22500]}, "legend": null}}},
  {"data": {"name": "items"}, "transform": [{"filter": "datum.p == 'S2B'"}], "mark": {"type": "point", "filled": false, "strokeWidth": 3, "opacity": 1},
   "encoding": {"x": {"field": "x", "type": "quantitative", "scale": {"domain": [-67.8, 67.8]}, "axis": {"title": "ε=5.4° (SD 10.0°)", "titleX": 116, "titleY": 24.7, "titleBaseline": "alphabetic", "titleAlign": "center"}}, "y": {"field": "y", "type": "quantitative", "scale": {"domain": [-66, 66]}, "axis": null},
    "size": {"field": "a", "type": "quantitative", "scale": {"type": "pow", "exponent": 2, "domain": [0, 45], "range": [0, 22500]}, "legend": null},
    "shape": {"field": "k", "type": "ordinal", "legend": null},
    "angle": {"field": "t", "type": "quantitative", "scale": {"domain": [0, 180], "range": [180, 0]}},
    "color": {"field": "c", "type": "nominal", "legend": null}}},
  {"data": {"name": "items"}, "transform": [{"filter": "datum.p == 'S2B'"}, {"lookup": "c", "from": {"data": {"name": "targets"}, "key": "c", "fields": ["tx", "ty"]}}], "mark": {"type": "rule", "strokeWidth": 4},
   "encoding": {"x": {"field": "x", "type": "quantitative", "scale": {"domain": [-67.8, 67.8]}, "axis": {"title": "ε=5.4° (SD 10.0°)", "titleX": 116, "titleY": 24.7, "titleBaseline": "alphabetic", "titleAlign": "center"}}, "y": {"field": "y", "type": "quantitative", "scale": {"domain": [-66, 66]}, "axis": null}, "x2": {"field": "tx"}, "y2": {"field": "ty"},
    "color": {"field": "c", "type": "nominal", "legend": null}}},
  {"data": {"name": "items"}, "transform": [{"filter": "datum.p == 'S2B'"}], "mark": {"type": "point", "shape": "circle", "filled": true, "size": 40, "opacity": 1},
   "encoding": {"x": {"field": "x", "type": "quantitative", "scale": {"domain": [-67.8, 67.8]}, "axis": {"title": "ε=5.4° (SD 10.0°)", "titleX": 116, "titleY": 24.7, "titleBaseline": "alphabetic", "titleAlign": "center"}}, "y": {"field": "y", "type": "quantitative", "scale": {"domain": [-66, 66]}, "axis": null},
    "color": {"field": "c", "type": "nominal", "legend": null}}}
 ]},
{"width": 190, "height": 220,
 "layer": [
  {"data": {"name": "cross"}, "transform": [{"filter": "datum.p == 'S3B'"}], "mark": {"type": "rule", "color": "#bdbdbd", "strokeWidth": 2},
   "encoding": {"x": {"field": "x1", "type": "quantitative", "scale": {"domain": [-57, 57]}, "axis": {"title": "ε=6.0° (SD 6.2°)", "titleX": 97, "titleY": 24.7, "titleBaseline": "alphabetic", "titleAlign": "center"}},
    "y": {"field": "y1", "type": "quantitative", "scale": {"domain": [-66, 66]}, "axis": null},
    "x2": {"field": "x2"}, "y2": {"field": "y2"}}},
  {"data": {"name": "rings"}, "mark": {"type": "point", "shape": "circle", "filled": false, "color": "#bdbdbd", "strokeWidth": 2, "opacity": 1},
   "encoding": {"x": {"datum": 0, "type": "quantitative", "scale": {"domain": [-57, 57]}, "axis": {"title": "ε=6.0° (SD 6.2°)", "titleX": 97, "titleY": 24.7, "titleBaseline": "alphabetic", "titleAlign": "center"}}, "y": {"datum": 0, "type": "quantitative", "scale": {"domain": [-66, 66]}, "axis": null},
    "size": {"field": "rad", "type": "quantitative", "scale": {"type": "pow", "exponent": 2, "domain": [0, 45], "range": [0, 22500]}, "legend": null}}},
  {"data": {"name": "items"}, "transform": [{"filter": "datum.p == 'S3B'"}], "mark": {"type": "point", "filled": false, "strokeWidth": 3, "opacity": 1},
   "encoding": {"x": {"field": "x", "type": "quantitative", "scale": {"domain": [-57, 57]}, "axis": {"title": "ε=6.0° (SD 6.2°)", "titleX": 97, "titleY": 24.7, "titleBaseline": "alphabetic", "titleAlign": "center"}}, "y": {"field": "y", "type": "quantitative", "scale": {"domain": [-66, 66]}, "axis": null},
    "size": {"field": "a", "type": "quantitative", "scale": {"type": "pow", "exponent": 2, "domain": [0, 45], "range": [0, 22500]}, "legend": null},
    "shape": {"field": "k", "type": "ordinal", "legend": null},
    "angle": {"field": "t", "type": "quantitative", "scale": {"domain": [0, 180], "range": [180, 0]}},
    "color": {"field": "c", "type": "nominal", "legend": null}}},
  {"data": {"name": "items"}, "transform": [{"filter": "datum.p == 'S3B'"}, {"lookup": "c", "from": {"data": {"name": "targets"}, "key": "c", "fields": ["tx", "ty"]}}], "mark": {"type": "rule", "strokeWidth": 4},
   "encoding": {"x": {"field": "x", "type": "quantitative", "scale": {"domain": [-57, 57]}, "axis": {"title": "ε=6.0° (SD 6.2°)", "titleX": 97, "titleY": 24.7, "titleBaseline": "alphabetic", "titleAlign": "center"}}, "y": {"field": "y", "type": "quantitative", "scale": {"domain": [-66, 66]}, "axis": null}, "x2": {"field": "tx"}, "y2": {"field": "ty"},
    "color": {"field": "c", "type": "nominal", "legend": null}}},
  {"data": {"name": "items"}, "transform": [{"filter": "datum.p == 'S3B'"}], "mark": {"type": "point", "shape": "circle", "filled": true, "size": 40, "opacity": 1},
   "encoding": {"x": {"field": "x", "type": "quantitative", "scale": {"domain": [-57, 57]}, "axis": {"title": "ε=6.0° (SD 6.2°)", "titleX": 97, "titleY": 24.7, "titleBaseline": "alphabetic", "titleAlign": "center"}}, "y": {"field": "y", "type": "quantitative", "scale": {"domain": [-66, 66]}, "axis": null},
    "color": {"field": "c", "type": "nominal", "legend": null}}}
 ]},
{"width": 42, "height": 220, "data": {"values": [{"t0": 0, "t1": 1}]},
 "mark": {"type": "rule", "color": "#a3a3a3", "strokeWidth": 2.5},
 "encoding": {"x": {"datum": 0.5, "type": "quantitative", "scale": {"domain": [0, 1]}, "axis": null},
  "y": {"field": "t0", "type": "quantitative", "scale": {"domain": [0, 1]}, "axis": null}, "y2": {"field": "t1"}}},
{"width": 184, "height": 220,
 "layer": [
  {"data": {"name": "cross"}, "transform": [{"filter": "datum.p == 'AvB'"}], "mark": {"type": "rule", "color": "#bdbdbd", "strokeWidth": 2},
   "encoding": {"x": {"field": "x1", "type": "quantitative", "scale": {"domain": [-61.33, 61.33]}, "axis": {"title": "ε=5.6° (SD 14.0°)", "titleX": 86, "titleY": 24.7, "titleBaseline": "alphabetic", "titleAlign": "center"}},
    "y": {"field": "y1", "type": "quantitative", "scale": {"domain": [-73.33, 73.33]}, "axis": null},
    "x2": {"field": "x2"}, "y2": {"field": "y2"}}},
  {"data": {"name": "rings"}, "mark": {"type": "point", "shape": "circle", "filled": false, "color": "#bdbdbd", "strokeWidth": 2, "opacity": 1},
   "encoding": {"x": {"datum": 0, "type": "quantitative", "scale": {"domain": [-61.33, 61.33]}, "axis": {"title": "ε=5.6° (SD 14.0°)", "titleX": 86, "titleY": 24.7, "titleBaseline": "alphabetic", "titleAlign": "center"}}, "y": {"datum": 0, "type": "quantitative", "scale": {"domain": [-73.33, 73.33]}, "axis": null},
    "size": {"field": "rad", "type": "quantitative", "scale": {"type": "pow", "exponent": 2, "domain": [0, 45], "range": [0, 18225]}, "legend": null}}},
  {"data": {"name": "items"}, "transform": [{"filter": "datum.p == 'AvB'"}], "mark": {"type": "point", "filled": false, "strokeWidth": 3, "opacity": 1},
   "encoding": {"x": {"field": "x", "type": "quantitative", "scale": {"domain": [-61.33, 61.33]}, "axis": {"title": "ε=5.6° (SD 14.0°)", "titleX": 86, "titleY": 24.7, "titleBaseline": "alphabetic", "titleAlign": "center"}}, "y": {"field": "y", "type": "quantitative", "scale": {"domain": [-73.33, 73.33]}, "axis": null},
    "size": {"field": "a", "type": "quantitative", "scale": {"type": "pow", "exponent": 2, "domain": [0, 45], "range": [0, 18225]}, "legend": null},
    "shape": {"field": "k", "type": "ordinal", "legend": null},
    "angle": {"field": "t", "type": "quantitative", "scale": {"domain": [0, 180], "range": [180, 0]}},
    "color": {"field": "c", "type": "nominal", "legend": null}}},
  {"data": {"name": "items"}, "transform": [{"filter": "datum.p == 'AvB'"}, {"lookup": "c", "from": {"data": {"name": "targets"}, "key": "c", "fields": ["tx", "ty"]}}], "mark": {"type": "rule", "strokeWidth": 4},
   "encoding": {"x": {"field": "x", "type": "quantitative", "scale": {"domain": [-61.33, 61.33]}, "axis": {"title": "ε=5.6° (SD 14.0°)", "titleX": 86, "titleY": 24.7, "titleBaseline": "alphabetic", "titleAlign": "center"}}, "y": {"field": "y", "type": "quantitative", "scale": {"domain": [-73.33, 73.33]}, "axis": null}, "x2": {"field": "tx"}, "y2": {"field": "ty"},
    "color": {"field": "c", "type": "nominal", "legend": null}}},
  {"data": {"name": "items"}, "transform": [{"filter": "datum.p == 'AvB'"}], "mark": {"type": "point", "shape": "circle", "filled": true, "size": 40, "opacity": 1},
   "encoding": {"x": {"field": "x", "type": "quantitative", "scale": {"domain": [-61.33, 61.33]}, "axis": {"title": "ε=5.6° (SD 14.0°)", "titleX": 86, "titleY": 24.7, "titleBaseline": "alphabetic", "titleAlign": "center"}}, "y": {"field": "y", "type": "quantitative", "scale": {"domain": [-73.33, 73.33]}, "axis": null},
    "color": {"field": "c", "type": "nominal", "legend": null}}}
 ]}
]
}
